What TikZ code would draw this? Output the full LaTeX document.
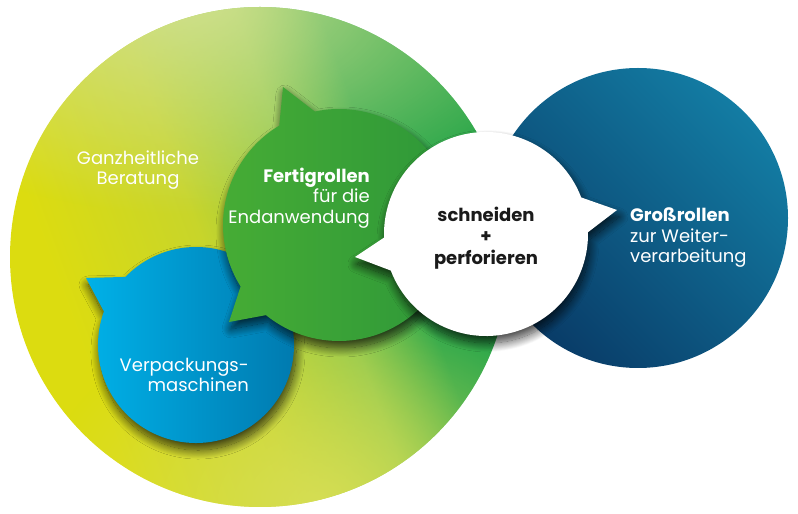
\documentclass[tikz,border=0pt]{standalone}
\usepackage[dvipsnames]{xcolor}
\usepackage{fontspec}
\setmainfont{Poppins}
\usetikzlibrary{shadows.blur,fadings}

\definecolor{gelb}{HTML}{DCDC10}
\definecolor{hellgruen}{HTML}{C8D52A}
\definecolor{wiese}{HTML}{8FC84C}
\definecolor{gruen}{HTML}{2EA84B}
\definecolor{blass}{HTML}{D3E292}
\definecolor{blassgelb}{HTML}{D8DF58}
\definecolor{blatt}{HTML}{46AC35}
\definecolor{blattdunkel}{HTML}{2C9639}
\definecolor{himmel}{HTML}{00B1E8}
\definecolor{himmeldunkel}{HTML}{0077AC}
\definecolor{petrol}{HTML}{137CA3}
\definecolor{marine}{HTML}{093C68}
\definecolor{schwarz}{HTML}{1A1A1A}

\pgfdeclarehorizontalshading{grossverlauf}{100bp}{color(0bp)=(gelb); color(30bp)=(gelb); color(45bp)=(hellgruen); color(56bp)=(wiese); color(64bp)=(gruen); color(100bp)=(gruen)}
\tikzfading[name=schleier, inner color=transparent!0, outer color=transparent!100]

\begin{document}
\begin{tikzpicture}[x=1pt,y=1pt,font=\fontsize{18}{20.5}\selectfont,
    rund/.style={circle,inner sep=0pt,outer sep=0pt},
    schatten/.style={blur shadow={shadow xshift=2pt,shadow yshift=-7pt,shadow blur radius=9pt,shadow blur steps=20,shadow opacity=75}},
    hell/.style={text=white,inner sep=0pt}]

            \useasboundingbox (0,0) rectangle (798,514);

            \node[rund, minimum size=500pt] (beratung) at (260,257) {};
            \node[rund, minimum size=300pt] (gross) at (638,296) {};
            \node[rund, minimum size=196pt] (verpackung) at (196,169) {};
            \node[rund, minimum size=232pt] (fertig) at (339,289) {};
            \node[rund, minimum size=204pt] (schneiden) at (486,280) {};

            \coordinate (spitze1) at (86,236);
            \coordinate (spitze2) at (283,427);
            \coordinate (spitze3) at (229,192);
            \coordinate (spitze4) at (355,257);
            \coordinate (spitze5) at (617,304);

            \shade[shading=grossverlauf, shading angle=20] (beratung.center) circle[radius=250pt];
            \begin{scope}
                \clip (beratung.center) circle[radius=250pt];
                \fill[blass, path fading=schleier, opacity=0.95] (190,520) ellipse[x radius=380pt, y radius=220pt];
                \fill[blassgelb, path fading=schleier, opacity=0.9] (320,10) ellipse[x radius=280pt, y radius=200pt];
            \end{scope}

            \shade[top color=petrol, bottom color=marine, shading angle=-45] (gross.center) circle[radius=150pt];

            \shade[schatten, left color=himmel, right color=himmeldunkel] (verpackung.136) -- (spitze1) -- (verpackung.160)
                arc[start angle=160, end angle=496, radius=98pt] -- cycle;

            \shade[schatten, left color=blatt, right color=blattdunkel] (fertig.102) -- (spitze2) -- (fertig.121)
                arc[start angle=121, end angle=212, radius=116pt] -- (spitze3) -- (fertig.231)
                arc[start angle=231, end angle=462, radius=116pt] -- cycle;

            \fill[schatten, white] (schneiden.1) -- (spitze5) -- (schneiden.21)
                arc[start angle=21, end angle=182, radius=102pt] -- (spitze4) -- (schneiden.201)
                arc[start angle=201, end angle=361, radius=102pt] -- cycle;

            \node[hell, align=center] (t_beratung) at (138,344) {Ganzheitliche\\Beratung};
            \node[hell, align=right, anchor=east] (t_fertig) at (370,316) {\textbf{Fertigrollen}\\für die\\Endanwendung};
            \node[text=schwarz, inner sep=0pt, align=center, font=\fontsize{18}{21.5}\selectfont\bfseries] (t_schneiden) at (486,276) {schneiden\\+\\perforieren};
            \node[hell, align=left, anchor=west] (t_gross) at (630,276) {\textbf{Großrollen}\\zur Weiter-\\verarbeitung};
            \node[hell, align=right, anchor=east] (t_verpackung) at (249,139) {Verpackungs-\\maschinen};

        \end{tikzpicture}
\end{document}
